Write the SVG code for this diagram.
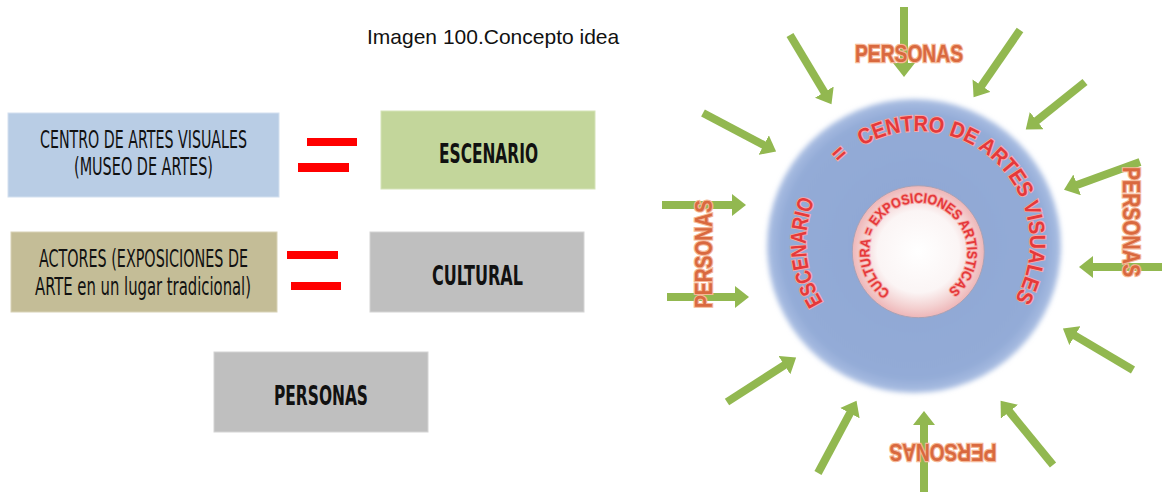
<svg xmlns="http://www.w3.org/2000/svg" width="1162" height="492" viewBox="0 0 1162 492">
<style>
.cond{font-family:"Liberation Sans Narrow","DejaVu Sans Condensed","Liberation Sans",Arial,sans-serif;fill:#111;}
.bold{font-weight:bold;}
.eq{fill:#ff0000;}
.arr{stroke:#92b850;stroke-width:8;fill:none;marker-end:url(#ah);}
.ring{font-family:"Liberation Sans",Arial,sans-serif;font-weight:bold;fill:#e5393b;stroke:#f6a9a6;stroke-width:2;paint-order:stroke fill;}
.pers{font-family:"Liberation Sans",Arial,sans-serif;font-weight:bold;font-size:23px;fill:#d9693f;stroke:#f5b796;stroke-width:2.5;paint-order:stroke fill;text-anchor:middle;}
</style>
<defs>
<marker id="ah" markerUnits="userSpaceOnUse" markerWidth="16" markerHeight="22" refX="1" refY="11" orient="auto" viewBox="0 0 16 22">
<path d="M0,0 L14,11 L0,22 z" fill="#92b850"/>
</marker>
<radialGradient id="blueG" cx="0.5" cy="0.5" r="0.5">
<stop offset="0" stop-color="#8ea6d3"/>
<stop offset="0.9" stop-color="#93abd7"/>
<stop offset="1" stop-color="#abbfe3"/>
</radialGradient>
<radialGradient id="innerG" cx="0.5" cy="0.5" r="0.5">
<stop offset="0" stop-color="#ffffff"/>
<stop offset="0.62" stop-color="#fbf5f5"/>
<stop offset="0.86" stop-color="#f3cfcf"/>
<stop offset="1" stop-color="#eeb6b8"/>
</radialGradient>
<filter id="soft" x="-10%" y="-10%" width="120%" height="120%">
<feGaussianBlur stdDeviation="2.5"/>
</filter>
<path id="outerArc" d="M823.0,302.4 A112,112 0 1 1 1003.8,315.0"/>
<path id="innerArc" d="M890.2,291.8 A49,49 0 1 1 939.0,296.1"/>
</defs>
<rect width="1162" height="492" fill="#ffffff"/>

<text x="367" y="44" font-family="Liberation Sans, Arial, sans-serif" font-size="21" fill="#111">Imagen 100.Concepto idea</text>

<g id="box-centro">
<rect x="8" y="113" width="271" height="84" fill="#b9cde5" stroke="#d3e0ef" stroke-width="1"/>
<text class="cond" x="143.5" y="148" font-size="24" text-anchor="middle" textLength="207" lengthAdjust="spacingAndGlyphs">CENTRO DE ARTES VISUALES</text>
<text class="cond" x="143.5" y="175" font-size="24" text-anchor="middle" textLength="139" lengthAdjust="spacingAndGlyphs">(MUSEO DE ARTES)</text>
</g>
<g id="eq1">
<rect class="eq" x="307" y="138" width="50" height="8"/>
<rect class="eq" x="298" y="163" width="51" height="9"/>
</g>
<g id="box-escenario">
<rect x="381" y="111" width="214" height="78" fill="#c3d69b" stroke="#d5e3b8" stroke-width="1"/>
<text class="cond bold" x="488.5" y="163" font-size="27" text-anchor="middle" textLength="99" lengthAdjust="spacingAndGlyphs">ESCENARIO</text>
</g>

<g id="box-actores">
<rect x="11" y="232" width="266" height="80" fill="#c4bd97" stroke="#d8d2b6" stroke-width="1"/>
<text class="cond" x="143.5" y="267" font-size="24" text-anchor="middle" textLength="209" lengthAdjust="spacingAndGlyphs">ACTORES (EXPOSICIONES DE</text>
<text class="cond" x="143" y="295" font-size="24" text-anchor="middle" textLength="216" lengthAdjust="spacingAndGlyphs">ARTE en un lugar tradicional)</text>
</g>
<g id="eq2">
<rect class="eq" x="287" y="251" width="51" height="8"/>
<rect class="eq" x="291" y="282" width="50" height="8"/>
</g>
<g id="box-cultural">
<rect x="370" y="232" width="214" height="80" fill="#bfbfbf" stroke="#d4d4d4" stroke-width="1"/>
<text class="cond bold" x="477.5" y="285" font-size="27" text-anchor="middle" textLength="91" lengthAdjust="spacingAndGlyphs">CULTURAL</text>
</g>
<g id="box-personas">
<rect x="214" y="352" width="214" height="80" fill="#bfbfbf" stroke="#d4d4d4" stroke-width="1"/>
<text class="cond bold" x="321" y="405" font-size="27" text-anchor="middle" textLength="94" lengthAdjust="spacingAndGlyphs">PERSONAS</text>
</g>

<g id="circle">
<circle cx="914" cy="246" r="147" fill="url(#blueG)" filter="url(#soft)"/>
<circle cx="918.3" cy="251.7" r="66" fill="url(#innerG)" stroke="#a7a2b6" stroke-width="1"/>
<text class="ring" font-size="22"><textPath href="#outerArc" startOffset="0" textLength="106" lengthAdjust="spacingAndGlyphs">ESCENARIO</textPath></text>
<text class="ring" font-size="22"><textPath href="#outerArc" startOffset="150.7">=</textPath></text>
<text class="ring" font-size="22"><textPath href="#outerArc" startOffset="179.8" textLength="293" lengthAdjust="spacingAndGlyphs">CENTRO DE ARTES VISUALES</textPath></text>
<text class="ring" font-size="14" stroke-width="1.5"><textPath href="#innerArc" startOffset="0" textLength="245" lengthAdjust="spacingAndGlyphs">CULTURA = EXPOSICIONES ARTISTICAS</textPath></text>
</g>

<g id="connectors">
<line class="arr" x1="904" y1="7" x2="904" y2="64"/>
<line class="arr" x1="790" y1="35" x2="824.8" y2="93"/>
<line class="arr" x1="1020" y1="30" x2="981" y2="86.5"/>
<line class="arr" x1="1085" y1="82" x2="1035.9" y2="121.3"/>
<line class="arr" x1="703" y1="113" x2="764.6" y2="145.5"/>
<line class="arr" x1="1140" y1="162" x2="1076.2" y2="185.2"/>
<line class="arr" x1="662" y1="205" x2="733" y2="205"/>
<line class="arr" x1="667" y1="297" x2="736" y2="297"/>
<line class="arr" x1="1166" y1="267" x2="1092" y2="267"/>
<line class="arr" x1="1133" y1="370" x2="1074.1" y2="335.1"/>
<line class="arr" x1="727" y1="402" x2="785.2" y2="364.6"/>
<line class="arr" x1="818" y1="473" x2="850.4" y2="412.3"/>
<line class="arr" x1="924" y1="496" x2="924" y2="424"/>
<line class="arr" x1="1053" y1="465" x2="1008.8" y2="410.9"/>
</g>

<g id="personas-labels">
<text class="pers" x="909" y="62" textLength="108" lengthAdjust="spacingAndGlyphs">PERSONAS</text>
<text class="pers" x="1131" y="230" transform="rotate(90 1131 222)" textLength="110" lengthAdjust="spacingAndGlyphs">PERSONAS</text>
<text class="pers" x="704" y="262" transform="rotate(-90 704 254)" textLength="108" lengthAdjust="spacingAndGlyphs">PERSONAS</text>
<text class="pers" x="943" y="460" transform="rotate(180 943 452)" textLength="107" lengthAdjust="spacingAndGlyphs">PERSONAS</text>
</g>
</svg>
